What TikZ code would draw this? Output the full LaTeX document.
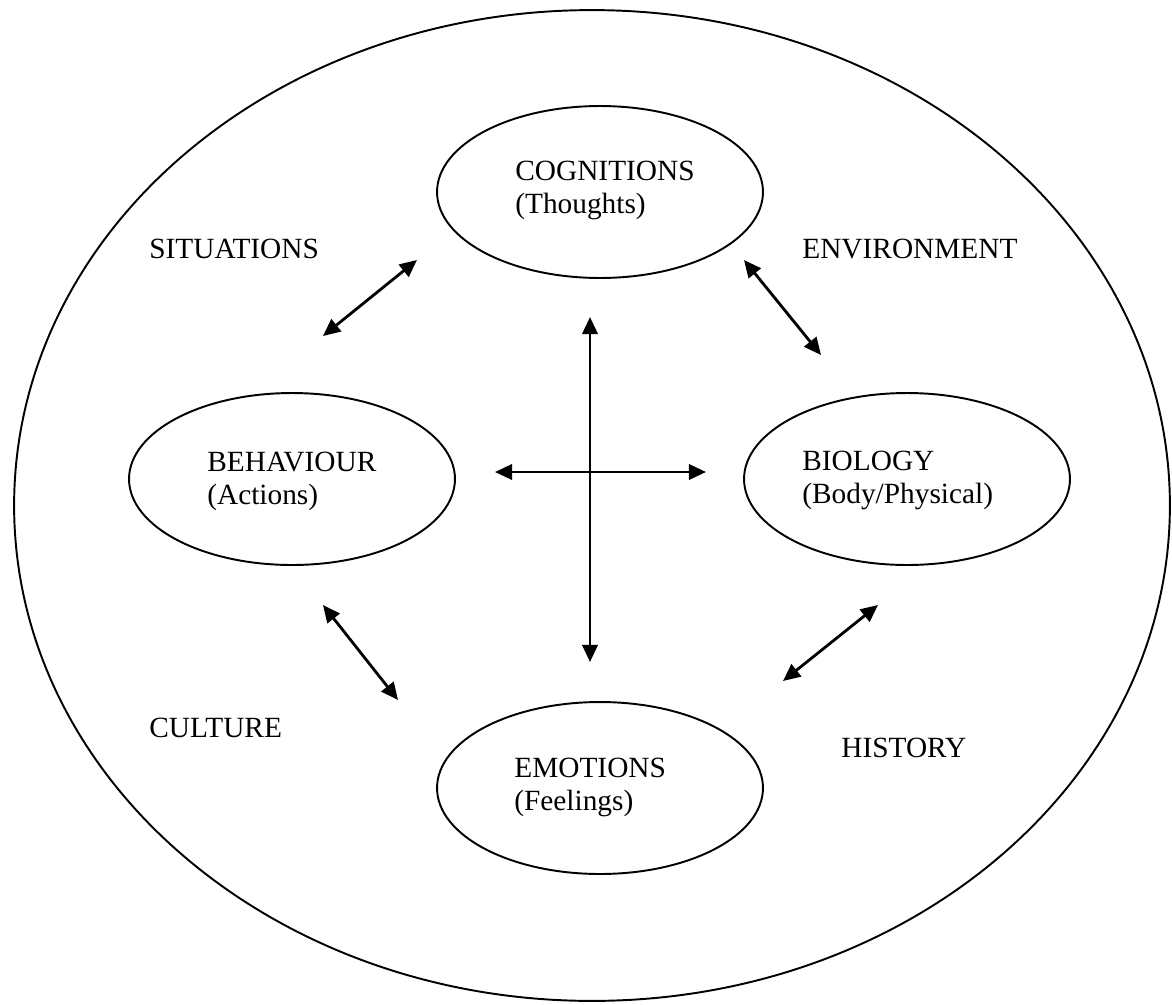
\documentclass[tikz,border=0pt]{standalone}
\usepackage{fontspec}
\setmainfont{Liberation Serif}
\usetikzlibrary{shapes.geometric,arrows.meta}

\tikzset{
  oval/.style={draw, ellipse, line width=1.1pt, inner sep=0pt,
    minimum width=6.52cm, minimum height=3.44cm},
  label txt/.style={anchor=base west, inner sep=0pt,
    font=\fontsize{16.7pt}{18.8pt}\selectfont},
  twoway/.style={line width=1.6pt,
    {Triangle[length=9.8pt,width=8.8pt]}-{Triangle[length=9.8pt,width=8.8pt]}}
}
\newcommand{\twolines}[2]{\begin{tabular}[t]{@{}l@{}}#1\\#2\end{tabular}}

\begin{document}
\begin{tikzpicture}[x=0.02cm, y=-0.02cm]
  \useasboundingbox (0,0) rectangle (1172,1004);

  % surrounding context
  \node[draw, ellipse, line width=1.1pt, inner sep=0pt,
        minimum width=23.12cm, minimum height=19.82cm] (world) at (592,505.5) {};

  % the four interacting areas
  \node[oval] (cog) at (600,192) {};
  \node[oval] (beh) at (292,479) {};
  \node[oval] (bio) at (907,479) {};
  \node[oval] (emo) at (600,788) {};

  \node[label txt] (cogtxt) at (515,180) {\twolines{COGNITIONS}{(Thoughts)}};
  \node[label txt] (behtxt) at (207,471) {\twolines{BEHAVIOUR}{(Actions)}};
  \node[label txt] (biotxt) at (802,470) {\twolines{BIOLOGY}{(Body/Physical)}};
  \node[label txt] (emotxt) at (514,777) {\twolines{EMOTIONS}{(Feelings)}};

  % outer influences
  \node[label txt] (sit) at (149,258) {SITUATIONS};
  \node[label txt] (env) at (802,258) {ENVIRONMENT};
  \node[label txt] (cul) at (149,737) {CULTURE};
  \node[label txt] (his) at (841,757) {HISTORY};

  % arrow end points
  \coordinate (cb1) at (417,260);  \coordinate (cb2) at (323,336);
  \coordinate (cg1) at (744,260);  \coordinate (cg2) at (821,355);
  \coordinate (be1) at (323,605);  \coordinate (be2) at (398,700);
  \coordinate (ge1) at (878,605);  \coordinate (ge2) at (783,681);
  \coordinate (v1)  at (590,317);  \coordinate (v2)  at (590,662);
  \coordinate (h1)  at (495,472);  \coordinate (h2)  at (706,472);

  % two-way interactions
  \draw[twoway] (cb1) -- (cb2);
  \draw[twoway] (cg1) -- (cg2);
  \draw[twoway] (be1) -- (be2);
  \draw[twoway] (ge1) -- (ge2);
  \draw[twoway] (v1) -- (v2);
  \draw[twoway] (h1) -- (h2);
\end{tikzpicture}
\end{document}
